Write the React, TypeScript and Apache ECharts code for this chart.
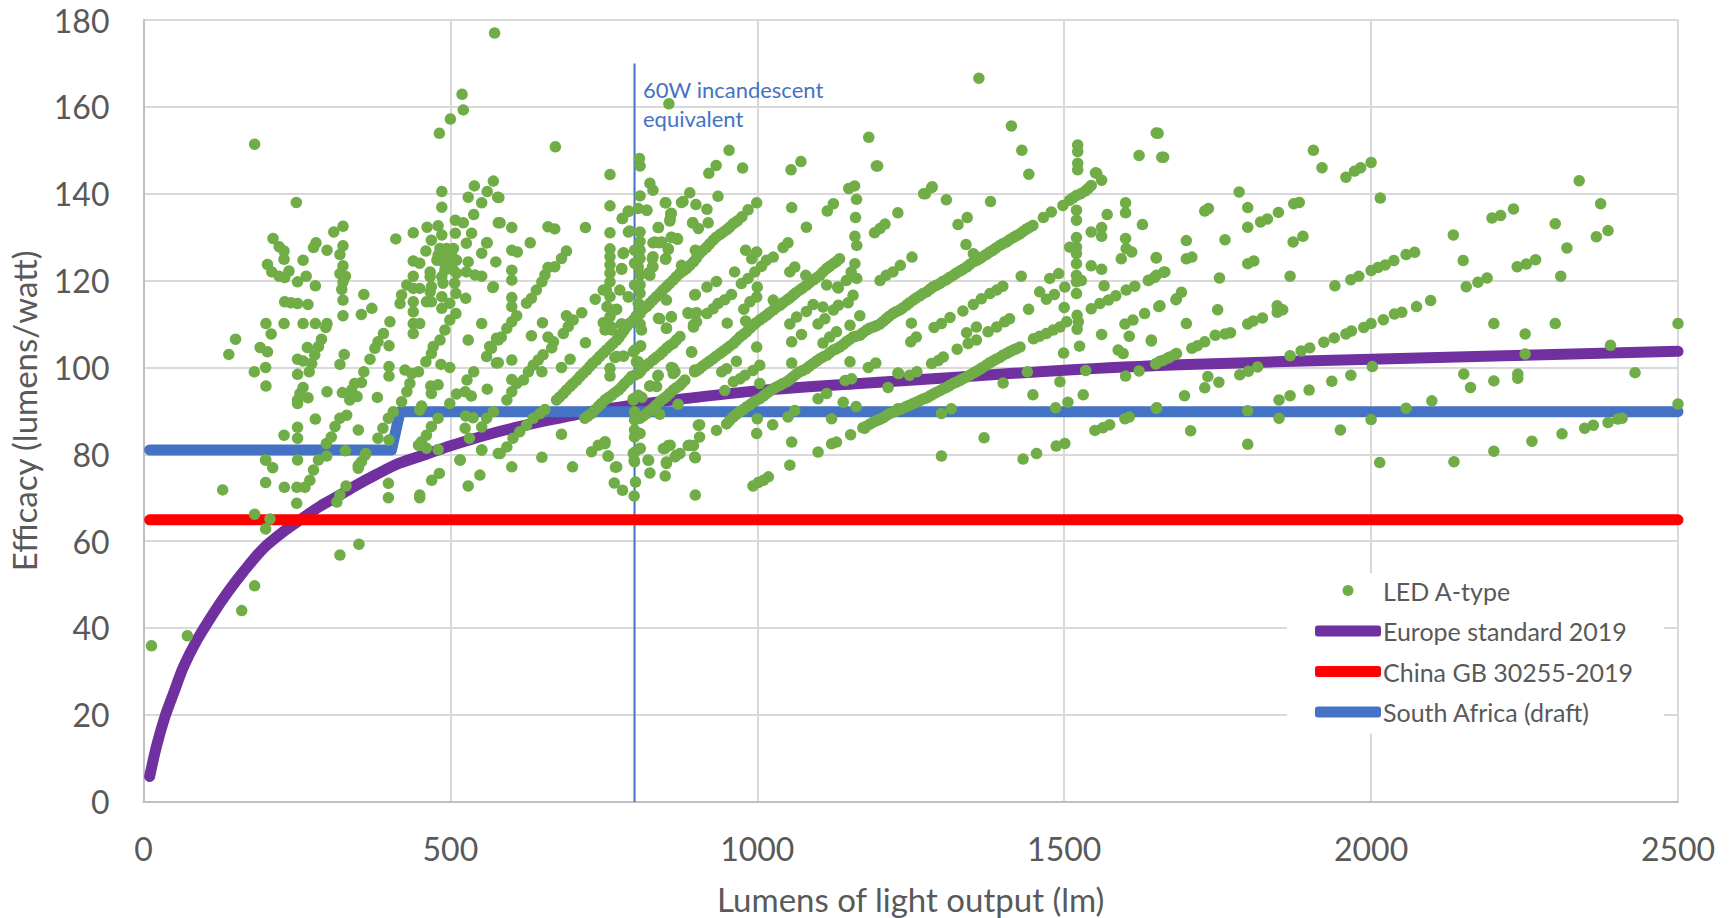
import React, { useEffect, useRef } from "react";
import * as echarts from "echarts";

const yearTicks = { xMax: 2500, xStep: 500, yMax: 180, yStep: 20 };

const ledUpTo450 = [
[13,35.9],[71.5,38.2],[160,44],[181,49.7],[199,62.8],[181,66.2],[206,65.1],[129,71.8],[320,56.8],[351,59.3],[249.6,68.7],[229.5,72.4],[199,73.5],[210.5,76.9],[199,78.7],[250,72.4],[263,72.4],[271,74],[277,76.4],[285,78.7],[298.5,79.6],[315,69],[320,70.6],[330,72.7],[399,73.3],[399,70],[350,77.4],[361,79.8],
[181,151.4],[249,138],[211,129.7],[221,127.8],[229,126.8],[229,124.9],[202,123.7],[209,122],[221,121],[230,120.7],[237,122.2],[251,119.7],[265,121],[280,118.8],[260,124.7],[277,127.6],[281,128.7],[299,127],[310,131.2],[325,132.5],[325,128],[320,126],[325,123.4],[320,121.6],[329,121],[325,119.7],[323,118],[325,115.5],[230,115.1],[240,114.9],[251,114.7],[268,114.5],[359,116.8],[325,111.9],[355,112.2],[372,113.6],
[199.5,110.1],[229,110.1],[260,110.1],[280,110.1],[299,110.1],[297,109.2],[208,107.7],[150,106.5],[190,104.6],[202,103.6],[139,103],[267,104.6],[290,106.5],[285,104.8],[279,102.9],[274,100.9],[270,99],[251,101.9],[260,101.5],[327,103],[320,100.7],[199,100],[180.5,99],[251,98.4],[199.5,95.7],[260,95.4],[255,94],[251,92.5],[251,91.7],[268,93],[299,94.4],[280,88.1],[251,86.2],[229,84.4],[251,83.7],[331,89],[320,88.3],[312,86.4],[306,84],[298,82.5],[329,80.8],[350,85.6],[199,78.7],[251,78.7],[355,78.3],[362,80.2],[350,76.8],[382,83.7],[400,83.3],[390,86],[399,88.3],[407,89.8],[401.5,110.5],[391,107.8],[382,105.9],[377,104.4],[369,101.9],[400,105],[400,100.2],[400,98],[359,99],[355,96.5],[344,96.3],[339,94.8],[336,92.5],[348,93.3],[324,94.2],[381,93.1],[411,129.6],[439.5,131],[439.5,124.5],[450,124],[439.5,121],[429,119],[420.5,116.7],[439.5,118.2],[450,118.2],[418,114.7],[439.5,115.1],[439.5,112.8],[439.5,110.1],[450,110.1],[439.5,107.8],[448,99],[437,98.6],[426,99.4],[434,96.3],[429,94.4],[420.5,92.1],[450,90.2],[448,82.1],[450,70.6],[450,70]
];

const led450to700 = [
[486,140.5],[486,136.9],[539,141.8],[529,139.2],[570,142.9],[560,140.5],[551,137.9],[538,135.2],[577,139.2],[508,133.9],[521,133.3],[578,133.3],[462,132.3],[480,132.6],[486,130.5],[469,129.3],[508,130.9],[534.5,130.9],[526,128.6],[460,126.8],[559,128.7],[551,126.3],[574,124.3],[529,124.3],[467,122],[526,122],[540,121.3],[551,121],[483,127.4],[494,127.4],[505,127.4],[480,125.9],[491,125.9],[502,125.9],[478,124.7],[488,124.3],[499,124.3],[510,124.7],[491,122.4],[505,122.4],[486,120.9],[510,121.7],[488,119.4],[507,119.4],[469,118.6],[509,117],[486,116.3],[469,115.1],[461,115.1],[499,114.8],[486,113.6],[467,120.9],[467,117.4],[569,118.4],[525,115.9],
[509,112.4],[499,110.9],[491,108.6],[483,106.3],[472,104.8],[469,103.2],[460,101.3],[551,110.1],[529,106.3],[575,106.7],[559,102.5],[567,104.4],[575,101],[484.6,100.7],[499,100],[538,99],[527,97.1],[480,96],[468,95.7],[469,94],[560,95],[510,93.9],[524,94.4],[534,93.4],[499,91.7],[453,91.1],[480,88.3],[469,86.4],[461,84.4],[453,82.9],[461,81.4],[480,81.1],[525,88.8],[537,88.4],[524,86],[531,83.7],[570,89.8],[559,88.3],[551,86.3],[551,81],[516,78.7],[578,80.2],[469.5,74],[482,75.6],[529,72.7],[548,75.2],[515.6,78.7],[551,81],
[519,162.9],[521,159.3],[500,157.2],[482,153.9],[572,177],[579,139.1],[671,150.8],[581,133.3],[600,132.2],[659,132.4],[670,131.9],[630,128.7],[560,128.7],[600,127],[609,126.6],[689,126.8],[681,125.1],[600,122.4],[600,120.1],[670,123.2],[659,123],[654,121.3],[649,119.7],[640,117.8],[632,115.9],[624,114.8],[570,118.6],[600,116.1],[600,114],[608,111.9],[600,110.5],[592,109],[583,107],[578,106.3],[564,104.8],[578,101.1],[600,101.7],[632,107.3],[650,110.3],[659,107],[668,105.9],[665,104.5],[684,107.8],[692,109.4],[689,111.9],[592,92.5],[600,94.4],[608,96.3],[619,97.1],[600,97.2],[627,99],[635,100.5],[643,101.7],[651,102.9],[649,99],[681,100],[695,101.9],[592,81.7],[602,83.7],[613,85.2],[624,86.7],[635,88.3],[646,89.4],[654,90.3],[581,80.2],[600,77.1],[649,79.3],[681,84.6],[699,77.1],[673,92.5],[684,94],[695,95.6]
];

const led700to950 = [
[760,144.4],[825,142.4],[830,140.8],[809,139.5],[760,137.2],[851,137.9],[890,140.2],[879,138.2],[900,137.5],[720,132.2],[760,131],[790,135.9],[780,134.3],[806,136.6],[820,136.2],[860,135.5],[858,134.2],[839,132.2],[792,131.4],[809,131.2],[895,133.3],[860,130],[870,129.5],[760,127.3],[760,125.5],[760,123.6],[760,121.7],[760,119.7],[782,126.4],[779,122.6],[749,117.8],[760,116.3],[790,116.3],[736,115.7],[809,129],[809,127],[809,125.1],[806,123.2],[809,121.3],[809,119],[809,117.1],[800,127],[800,124],[800,119],[808,114.5],[830,125.5],[830,123.2],[822,121.7],[833,128.9],[844,128.9],[855,127.3],[851,125.1],[700,110.9],[714,112.6],[720,105.7],[755,114],[771,113.4],[760,111.7],[749,110.3],[752,108.6],[763,108.6],[779,110],[771,102.5],[782,102.6],[798,103.6],[809,104.8],[760,99.8],[760,98],[806,101.3],[838,98],[863,99.8],[863,98.6],[825,95.7],[836,95.6],[871,91.5],[841,89.2],[893,103.5],[898,99.4],[898,116.7],[888,112.4],[898,112.4],[896,109.8],[839,111.3],[852,109],[860,111.7],[852,115.5],[730,80.6],[741,82.1],[752,82.9],[757,79.6],[771,77.1],[852,77.9],[868,79.8],[850,81.4],[858,82.1],[890,82.1],[898,79.4],[904,86.7],[800,89.8],[800,87.9],[800,85.6],[800,84],[809,84.8],[809,81.4],[798,80.2],[800,78.3],[822,78.7],[812,93.1],[798,92.5],
[706,97.1],[716,98.6],[727,100.2],[738,101.7],[749,103.3],[760,104.8],[771,106.3],[779,107.8],[787,109.4],[798,110.9],[809,112.8],[820,114],[830,115.5],[841,117],[852,118.6],[863,120.1],[874,121.7],[885,122.8],[896,124.3],[906,126.2],[917,127.6],[928,129.3],[939,130.6],[950,131.7],[960,133],[968,133.8],[985,136.3],[999,137.9],
[719,88.3],[730,89.4],[741,91],[752,92.5],[763,93.6],[774,94.8],[784,96.3],[795,97.9],[806,98.6],[817,100.2],[830,101.7],[841,102.9],[852,104.4],[863,105.5],[874,107.1],[809,88.3],[820,89.4],[830,90.6],[841,92.1],[852,93.3],[863,94.8],[874,95.9],[882,97.1],
[898,99],[906,99.7],[917,100.9],[928,102],[939,103.2],[856,160.7],[808,148.1],[809,146.4],[790,136],[781.5,126.2],[779,122.8],[790,131.2],[780.4,134.3],[820,136.2],[850,137.9],[876.5,138],[859,135.4],[857.5,133.7],[838.5,132.2],[830,128.7],[841,128.7],[860,129.9],[869.5,129.7],[855,127.2],[850.5,124.9],[899,127],[829,125],[829,123.1],[825,121.2],[876.5,123.5],[776,117.8],[754,117.8],[790,116.2],[762.5,113.2],[768,113.2],[779,110],[754.4,109.7],[762.5,109.3],[806,114.7],[809,112.4],[809,110],[811.4,108.6],[841,111.2],[860,111.6],[852,109],[768,102.3],[781.5,102.6],[800.5,104],[810,105],[803,101.3],[809,99],[825,95.7],[838.5,98.2],[860,100],[866,99],[806,93.6],[798,92.8],[751.6,82.4],[757,79.6],[769,77],[767,73.4],[780.4,71.7],[799.4,70.4],[801.6,73.6],[799.4,78.6],[809,81.3],[800.5,80.5],[918,136.4],[920,133.3],[904,132],[894.5,133.3],[906,86.8],[906,84],[896,82],[887.4,82],[874,80.2],[866,79.4],[852,78.2],[855,82],[847,81.3],[899,79.2],[823,78.6],[825,75.7],[850,75],[899,70.6],[887,112.6],[901,112.6],[901,110.5],[896,109.3],[893,103.6],[899,116.8],[918,118.5],[933.5,119.8],[918,112.4],[928,113.5],[936,114.7],[947,115.6],[933.5,85.5]
];

const led950to1300 = [
[954,150],[933,146.5],[921,144.7],[976,145.9],[1071,147.4],[1055,145.5],[1181.6,153],[1196,146.4],[936,139.4],[1161.6,138.7],[1149,141.2],[1158.5,141.8],[1056,136.8],[1124,137.7],[1114,136],[1160,134.5],[1080,132.3],[1159,130.2],[1162,128.1],[1208,133],[1200,132],[1191,131],[1229,135.6],[1050,128.7],[1042,127.6],[1026,125.4],[1015,124.7],[999,126.6],[981,127],[991,125],[963,122],[1079,121.2],[1026,115.5],[1159,123.9],[1153,122],[1162,120.5],[1145,120],[1053,122],[1061,123.1],[1007,123.3],[996,122],[985,120.5],[974,119.3],[958,116.8],[1000,118.5],[999,116.2],[988,115.1],[978,113.4],[1113,119],[1132,118.3],[1156,116.6],[1148,114.9],[1132,114.3],[1124,113.2],[1091,114.5],[1080,112.9],[1107,113.9],[1167,111.9],[1110,111.2],[1099,110],[1064,111.6],[1053,110],[981,110.7],[951,110.2],[1129,108.2],[1118,107],[1107,105.6],[1072,107.6],[1056,105.9],[1151,109.7],
[1134,125],[1124,123.9],[1113,122.8],[1102,121.2],[1091,120.1],[1080,118.9],[1069,117.8],[1058,116.6],[1048,115.5],[1037,114.3],[1026,113.2],[1015,112],[1004,110.9],[993,109.7],[982.4,108.2],[971.6,107],[961,105.5],[950,104.3],
[950,87],[961,88.6],[971.6,89.8],[982.4,90.9],[993,92],[1004,92.8],[1015,94],[1026,95.1],[1037,95.9],[1048,96.7],[1058,97.8],[1069,99],[1080,99.7],[1091,100.9],[1102,102],[1113,102.8],[1124,104],[1134,104.7],[1145,105.9],[1156,107],[1167,107.4],[1178,108.6],[1189,109.3],[1200,110],[1210,111.2],[1221,112.4],[1232,113.2],[1243,114.3],[1254,115.5],[1265,116.5],[1276,117.4],[1286,118.5],[1297,119.3],
[1200,120],[1210,121.2],[1221,122],[1233,123.5],[1252,125.4],[1271,140],[1284,141.4],[1288,109.2],[1251,110.2],[1259,107],[1250,105.9],
[1297,94.6],[1286,93.8],[1276,93],[1265,92.4],[1254,91.7],[1243,91],[1232,90.3],[1216,89.4],[1205,88.4],[1194,87.7],[1183,86.9],[1172,86.1],[1175,86],[1129,82.8],[1121,82.4],[1152,84.5],[1099,80.5],[1053,77.5],[1018,74.8],[1010,74],[1001.5,73.5],[993,72.7],[947,94.7],[961,96.7],[972,97.4],[980,98.2],[993,99.3],[1004,100.5],[942,99],[950,99.7],[966,101.4],[999,104.7],[1004,96.3],[1000,88.2],[999,84.8],[1025,86.8],[1056,82.8],[1056,101],[1050,88.6],[1061,90.1],[1099,92.8],[1113,94],[1140,92],[1121,88.2],[1161,91],[1181,100],[1193,101],[1151,101.3],[1143,97],[1153.5,97.4],[1213,95.4],[1229,98.7],[1229,90.5],[1274,140],[1285,141.6],[1284,100.9],[1295,101.6],[1230.5,98.6],[1248,98.2],[1260,99],[1300,79.6],[1300,89.4],[1300,110.1],[1194,146.4],[1131,118.5]
];

const led1300to1700 = [
[1361,166.6],[1414,155.6],[1431,150],[1442.4,144.5],[1522,151.2],[1522,149.7],[1522,147],[1522,145.5],[1553,144.7],[1653,153.9],[1622,148.8],[1662,148.4],[1308,138.6],[1380,138.2],[1327,132.9],[1342,134.5],[1340,128.3],[1352,126.2],[1430,121],[1476.5,120.5],[1491,121.6],[1460,117.4],[1471,115.7],[1484,116.8],[1400,118.7],[1390,117.8],[1379,117],[1365,115.8],[1352,114.5],[1335,113],[1314,111.5],[1411,111.2],[1403,110.5],[1390,109.3],[1376,108.2],[1357,109.3],[1341,108],[1357,106.3],[1343.5,105.5],[1325.6,104.2],[1442,113.4],[1501,118.5],[1500,113.8],[1504,110.5],[1493,109.3],[1482,108.6],[1471,107.8],[1460,107.2],[1450,106.6],
[1308,120.2],[1319,121.2],[1330,122.2],[1341,123.1],[1352,124.3],[1362,125],[1373,126],[1384,127],[1395,128.1],[1406,128.9],[1417,129.9],[1428,130.8],[1438,131.8],[1449,132.7],[1466,134.5],[1479,135.8],[1498,137.3],[1509,138.5],[1520,139.6],[1534,140.6],[1544,141.9],[1561,143.1],[1551,144.8],
[1428,104.7],[1417,104],[1406,103.2],[1395,102.3],[1384,101.5],[1373,100.5],[1362,99.5],[1352,98.7],[1341,97.8],[1330,97],[1319,96.3],[1308,95.4],
[1433,78.9],[1455,80.2],[1487,81.9],[1501,82.5],[1369.5,83.8],[1316,90.5],[1400.5,96.4],[1440,99],[1449,93.7],[1493,96.7],[1535,99.3],[1531,93.7],[1486,90.7],[1506,92],[1303,102.4],[1499,103.3],[1525,104.9],[1561,107.6],[1606,107.2],[1642,106.3],[1588,104],[1596,103.2],[1600,98],[1622,99.2],[1651,90.7],[1550,85.5],[1563,86.1],[1574,86.8],[1599,88.2],[1606,88.6],[1523,110.5],[1521,112],[1521,108.8],[1544,113.5],[1558,114.7],[1572,115.5],[1584,116.5],[1601,117.8],[1615,118.7],[1599,110],[1612,110.9],[1631,112.4],[1656,114.2],[1650,100.9],[1661,101.6],[1672,102.4],[1683,103.2],[1683,115.8],
[1520,136.2],[1520,133.9],[1520,129.9],[1520,127.7],[1509,127.7],[1520,126.2],[1520,123.9],[1520,121.2],[1528,120],[1520,119.7],[1520,117],[1544,123.4],[1561,122.6],[1565,118.8],[1544,131.2],[1561,132.2],[1561,130.2],[1570,135.2],[1600,137.9],[1600,135.6],[1627.5,132.9],[1600,129.7],[1601,127.4],[1610,126.6],[1593,125],[1650,125.3],[1664,122],[1650,121.2],[1637,120],[1650,154],[1659,148.4],[1650,125.2],[1662,121.9],[1647,120.7],[1638,120.1],[1691,117.3],[1682,115.6],[1654,114],[1699,110.1],[1642,106.1],[1680,102.9],[1668,102.1],[1656,101.4],[1649,100.8],[1699,129.2],[1699,125],[1650,90.6],[1696,93.5]
];

const ledAbove1700 = [
[1906,150],[1920,146],[1959,143.8],[1973,145.2],[1983,146],[2000,147.2],[2015,139],[1785,140.4],[1799,136.8],[1729,136],[1735,136.6],[1799,132.3],[1820,133.5],[1831,134.2],[1849,135.7],[1874,137.7],[1883,138],[1762,129.4],[1873,128.9],[1889,130.2],[1708,125.4],[1799,123.9],[1809,124.5],[1753,120.6],[1868,121],[1750,113.3],[1847,114.2],[1847,112.7],[1856,113.3],[1823,111.4],[1808,110.7],[1799,110],[1771,108],[1762,107.7],[1746,107.4],[1729,105.9],[1717,105],[1708,104.4],[1941,118.8],[1967,120.2],[1980,121],[2000,122.3],[2011,123],[2023,123.6],[2037,124.6],[2057,126],[2071,126.5],[2097,115.4],[2074,114],[2050,112.7],[2038,112.3],[2020,111],[2000,110.1],[1988,109.2],[1968,108.4],[1959,107.7],[1940,106.8],[1923,105.8],[1900,104.5],[1886,103.8],[1868,102.7],[2134,130.5],[2150,124.6],[2197,134.4],[2211,135],[2232,136.5],[2339,143],[2374,137.7],[2300,133.1],[2367,130.1],[2386,131.5],[2319,127.5],[2309,121],[2268,124.8],[2253,123.8],[2238,123.2],[2189,120.6],[2174,119.6],[2155,118.6],[2200,110.1],[2251,107.7],[2300,110.1],[2500,110.1],[2390,105.1],[2251,103.1],[2151,98.5],[2162,95.4],[2200,96.9],[2239,98.5],[2239,97.5],[2430,98.8],[2057,90.6],[2099,92.3],[2000,88],[2002,100.2],[1967,98.2],[1936,96.8],[1899,94.8],[1868,93.5],[1850,92.5],[1850,88.3],[1799,90],[1799,82.3],[1950,85.6],[2014,78.1],[2135,78.3],[2200,80.7],[2262,83],[2311,84.7],[2348,86],[2362,86.7],[2386,87.3],[2402,88.1],[2409,88.3],[2500,91.6],[1706,85.4],[1786,98.3],[1800,99.1],[1815,100.1],[1734,97.9],[1752,96.6],[1729,95.3]
];

const ledBandUpper = [
[678,93.2],[689,94.8],[700,96.3],[711,97.9],[722,99.4],[732,101],[743,102.5],[754,104],[765,105.5],[775,107],[783,108.6],[792,110.2],[803,111.9],[814,113.4],[825,114.8],[835,116.2],[846,117.8],[857,119.3],[868,120.9],[879,122.2],[890,123.5],[901,125.2],[911,126.9],[922,128.4],[933,130],[944,131.1],[955,132.3],[964,133.4],[975,134.7],
[724,88.8],[735,90.2],[746,91.7],[757,93],[768,94.2],[779,95.5],[790,97.1],[800,98.2],[811,99.4],[823,100.9],[835,102.3],[846,103.6],[857,105],[868,106.3],[814,88.8],[825,90],[835,91.3],[846,92.7],[857,94],[868,95.3],[878,96.5],
[902,99.3],[911,100.3],[922,101.4],[933,102.6],[944,103.7],[955,104.9],[966,106.2],[977,107.6],[988,109],[998,110.3],[1010,111.5],[1020,112.6],[1031,113.8],[1042,114.9],[1053,116],[1063,117.2],[1074,118.3],[1085,119.5],[1096,120.6],[1107,122],[1118,123.3],[1129,124.4]
];

const ledBandLower = [
[955,87.8],[966,89.2],[977,90.3],[988,91.4],[998,92.4],[1010,93.4],[1020,94.5],[1031,95.5],[1042,96.3],[1053,97.2],[1063,98.4],[1074,99.3],[1085,100.3],[1096,101.4],[1107,102.4],[1118,103.4],[1129,104.3],[1140,105.3],[1150,106.4],[1161,107.2],[1172,108],[1183,109],[1194,109.6],[1205,110.6],[1215,111.8],[1226,112.8],[1237,113.7],[1248,114.9],[1259,116],[1270,117],[1281,118],[1292,118.9],[1302,119.8],[1313,120.7],[1324,121.7],[1335,122.6],[1346,123.7],[1357,124.6],[1367,125.5],[1378,126.5],[1389,127.5],[1400,128.5],[1411,129.4],[1422,130.3],[1433,131.3],[1443,132.2],[1514,139],[1527,140],[1539,141.2],
[1177,86.4],[1188,87.3],[1199,88],[1210,88.9],[1224,89.8],[1237,90.6],[1248,91.3],[1259,92],[1270,92.7],[1281,93.4],[1291,94.2],[1302,95],[1313,95.8],[1324,96.6],[1335,97.4],[1346,98.2],[1357,99.1],[1367,100],[1378,101],[1389,101.9],[1400,102.8],[1411,103.6],[1422,104.3]
];

const ledPoints = [...ledUpTo450, ...led450to700, ...led700to950, ...led950to1300, ...led1300to1700, ...ledAbove1700, ...ledBandUpper, ...ledBandLower];

const europe = [[10,5.8],[21,12.7],[35,19.6],[49,25],[65,31],[87,37.2],[114,43.4],[136,48],[163,53],[195,58.3],[228,62.2],[255,64.9],[287.5,68],[320,70.6],[342,72.5],[380,75.4],[418,78],[461,80],[499,81.9],[581,85.3],[662,87.9],[744,90.2],[852,92.3],[999,94.6],[1167,96.3],[1330,97.8],[1493,99.3],[1688,100.6],[2000,101.9],[2500,103.7]];
const china = [[10,64.9],[2500,64.9]];
const southAfrica = [[10,81],[404,81],[418,89.8],[2500,89.8]];
const equivalent60W = [[800,0],[800,170]];

const TEXT = "#595959";
const FONT = "Lato";

export default function App() {
  const ref = useRef<HTMLDivElement>(null);
  useEffect(() => {
    document.body.style.margin = "0";
    const chart = echarts.init(ref.current!, null, { renderer: "svg" });
    const lineSeries = (name: string, data: number[][], color: string, smooth: number) => ({
      name,
      type: "line",
      data,
      showSymbol: false,
      symbol: "none",
      smooth,
      clip: true,
      z: 3,
      lineStyle: { color, width: 11, cap: "round", join: "round" },
      itemStyle: { color },
      silent: true,
    });
    chart.setOption({
      animation: false,
      backgroundColor: "#ffffff",
      textStyle: { fontFamily: FONT },
      grid: { left: 143.5, right: 55, top: 20, bottom: 116.3, containLabel: false, outerBoundsMode: "none" },
      xAxis: {
        type: "value",
        min: 0,
        max: yearTicks.xMax,
        interval: yearTicks.xStep,
        name: "Lumens of light output (lm)",
        nameLocation: "middle",
        nameGap: 81,
        nameTextStyle: { color: TEXT, fontSize: 33, fontFamily: FONT },
        axisLine: { show: true, lineStyle: { color: "#bfbfbf", width: 2 } },
        axisTick: { show: false },
        axisLabel: { color: TEXT, fontSize: 32, fontFamily: FONT, margin: 31, formatter: (v: number) => String(v) },
        splitLine: { show: true, lineStyle: { color: "#d9d9d9", width: 2 } },
      },
      yAxis: {
        type: "value",
        min: 0,
        max: yearTicks.yMax,
        interval: yearTicks.yStep,
        name: "Efficacy (lumens/watt)",
        nameLocation: "middle",
        nameGap: 103,
        nameTextStyle: { color: TEXT, fontSize: 33, fontFamily: FONT },
        axisLine: { show: true, lineStyle: { color: "#bfbfbf", width: 2 } },
        axisTick: { show: false },
        axisLabel: { color: TEXT, fontSize: 32, fontFamily: FONT, margin: 34 },
        splitLine: { show: true, lineStyle: { color: "#d9d9d9", width: 2 } },
      },
      legend: {
        left: 1287,
        top: 573,
        orient: "vertical",
        padding: [5, 31, 9, 28],
        backgroundColor: "#ffffff",
        itemWidth: 66,
        itemHeight: 11,
        itemGap: 15.5,
        data: [
          { name: "LED A-type", icon: "circle" },
          { name: "Europe standard 2019", icon: "roundRect" },
          { name: "China GB 30255-2019", icon: "roundRect" },
          { name: "South Africa (draft)", icon: "roundRect" },
        ],
        textStyle: { color: TEXT, fontSize: 25, fontFamily: FONT, padding: [0, 0, 0, -3] },
      },
      series: [
        lineSeries("Europe standard 2019", europe, "#7030a0", 0.3),
        lineSeries("China GB 30255-2019", china, "#ff0000", 0),
        lineSeries("South Africa (draft)", southAfrica, "#4472c4", 0),
        {
          name: "60W incandescent equivalent",
          type: "line",
          data: equivalent60W,
          symbol: "none",
          z: 2,
          lineStyle: { color: "#4472c4", width: 2 },
          silent: true,
        },
        {
          name: "LED A-type",
          type: "scatter",
          data: ledPoints,
          symbol: "circle",
          symbolSize: 11.5,
          clip: false,
          z: 5,
          itemStyle: { color: "#70ad47", opacity: 1 },
          silent: true,
        },
      ],
      graphic: [
        {
          type: "text",
          left: 643,
          top: 75,
          z: 10,
          style: {
            text: "60W incandescent\nequivalent",
            fill: "#4472c4",
            font: `22px ${FONT}`,
            lineHeight: 29,
          },
        },
      ],
    });
    return () => chart.dispose();
  }, []);
  return <div ref={ref} style={{ width: 1733, height: 918 }} />;
}
